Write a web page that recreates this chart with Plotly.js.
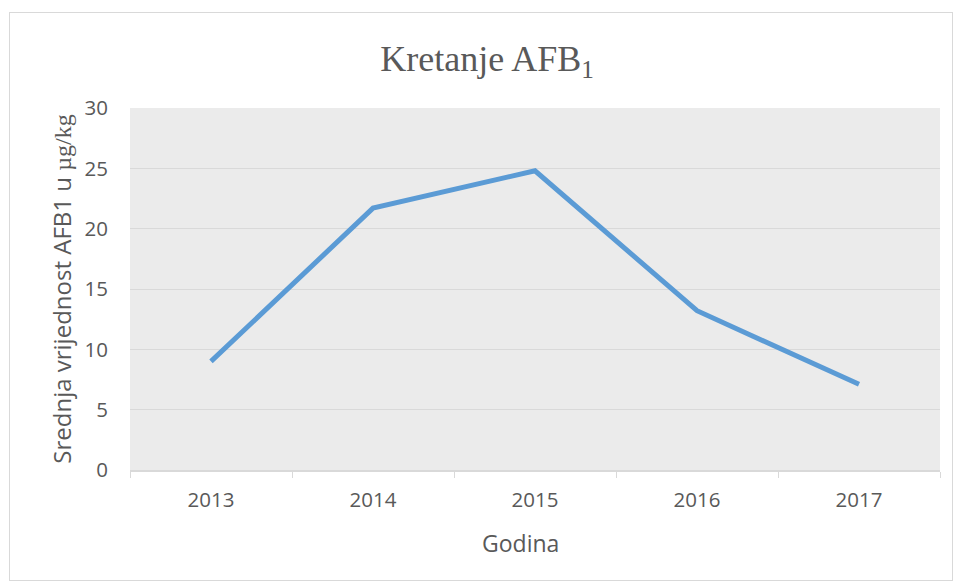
<!DOCTYPE html>
<html><head><meta charset="utf-8">
<script src="https://cdn.plot.ly/plotly-3.0.1.min.js"></script>
<style>body{margin:0;background:#fff}#c{position:absolute;left:0;top:0;width:955px;height:582px}#b{position:absolute;left:9px;top:12px;width:942px;height:567px;border:1px solid #d9d9d9;pointer-events:none}</style>
</head><body>
<div id="c"></div><div id="b"></div>
<script>
const years = ['2013','2014','2015','2016','2017'];
const afb1 = [9.0, 21.7, 24.8, 13.2, 7.1];
const xTitle = 'Godina';

const trace = {
  x: years, y: afb1, type: 'scatter', mode: 'lines',
  line: {color: '#5b9bd5', width: 5}, hoverinfo: 'skip'
};
const layout = {
  width: 955, height: 582,
  margin: {l: 130, r: 15, t: 108, b: 112},
  paper_bgcolor: 'rgba(0,0,0,0)', plot_bgcolor: '#ebebeb',
  showlegend: false,
  title: {text: 'Kretanje AFB<sub>1</sub>', font: {family: 'Liberation Serif, Times New Roman, serif', size: 36, color: '#595959'}, x: 0.51, xanchor: 'center', y: 0.9, yanchor: 'middle'},
  xaxis: {
    type: 'category', range: [-0.5, 4.5], tickson: 'boundaries',
    ticks: 'outside', ticklen: 6, tickcolor: '#d9d9d9', tickwidth: 1,
    ticklabelstandoff: 10,
    showline: true, linecolor: '#d9d9d9', linewidth: 2,
    showgrid: false, zeroline: false,
    tickfont: {family: 'Open Sans, sans-serif', size: 20.5, color: '#595959'}
  },
  yaxis: {
    range: [0, 30], dtick: 5, tick0: 0,
    showgrid: true, gridcolor: '#d9d9d9', gridwidth: 1,
    zeroline: false, showline: false, ticks: '',
    ticklabelstandoff: 21,
    tickfont: {family: 'Open Sans, sans-serif', size: 20.5, color: '#595959'},
    title: {text: 'Srednja vrijednost AFB1 u <span style="font-family:Liberation Serif, serif">µg/kg</span>', font: {family: 'Open Sans, sans-serif', size: 24, color: '#595959'}, standoff: 6}
  },
  annotations: [{
    text: xTitle, xref: 'paper', yref: 'paper', x: (520 - 130) / 810, y: -(543 - 470) / 362,
    xanchor: 'center', yanchor: 'middle', showarrow: false,
    font: {family: 'Open Sans, sans-serif', size: 23, color: '#595959'}
  }]
};
Plotly.newPlot('c', [trace], layout, {staticPlot: true});
</script>
</body></html>
